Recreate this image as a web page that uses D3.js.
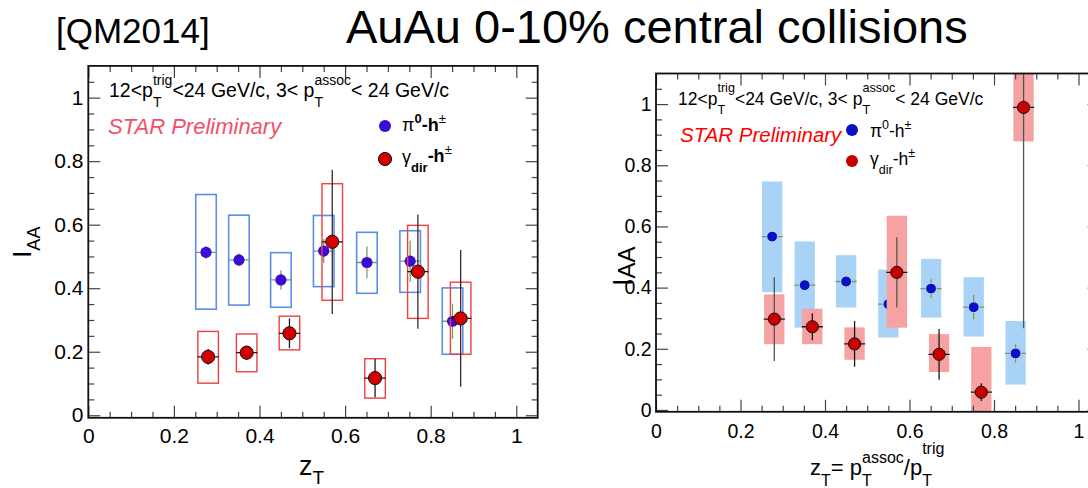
<!DOCTYPE html>
<html><head><meta charset="utf-8">
<script src="https://cdn.jsdelivr.net/npm/d3@7"></script>
<style>
body{margin:0;background:#fff}
svg{display:block}
text{font-family:"Liberation Sans",Arial,Helvetica,sans-serif}
</style>
</head><body>
<svg id="c" width="1088" height="488"></svg>
<script>
// ---------------- data ----------------
const zBlue = [0.275, 0.352, 0.45, 0.55, 0.651, 0.752, 0.851];
const zRed  = [0.28, 0.37, 0.47, 0.57, 0.67, 0.77, 0.87];

// left panel
const leftBlueIAA   = [0.513, 0.489, 0.426, 0.517, 0.481, 0.485, 0.296];
const leftBlueStat  = [0.02, 0.02, 0.03, 0.037, 0.05, 0.065, 0.055];
const leftBlueSysLo = [0.334, 0.347, 0.340, 0.405, 0.384, 0.387, 0.192];
const leftBlueSysHi = [0.695, 0.630, 0.512, 0.629, 0.576, 0.581, 0.401];
const leftRedIAA    = [0.184, 0.197, 0.258, 0.546, 0.117, 0.452, 0.305];
const leftRedStat   = [0.025, 0.022, 0.047, 0.227, 0.06, 0.18, 0.215];
const leftRedSysLo  = [0.101, 0.137, 0.206, 0.362, 0.054, 0.305, 0.192];
const leftRedSysHi  = [0.264, 0.256, 0.312, 0.729, 0.178, 0.598, 0.419];

// right panel
const rightBlueIAA   = [0.567, 0.408, 0.420, 0.346, 0.397, 0.336, 0.185];
const rightBlueStat  = [0.015, 0.015, 0.02, 0.02, 0.03, 0.04, 0.03];
const rightBlueSysLo = [0.385, 0.269, 0.335, 0.237, 0.302, 0.240, 0.083];
const rightBlueSysHi = [0.747, 0.551, 0.506, 0.459, 0.494, 0.434, 0.291];
const rightRedIAA    = [0.297, 0.272, 0.216, 0.450, 0.182, 0.058, 0.989];
const rightRedStat   = [0.137, 0.044, 0.075, 0.115, 0.083, 0.029, 0.722];
const rightRedSysLo  = [0.215, 0.215, 0.164, 0.269, 0.124, -0.10, 0.878];
const rightRedSysHi  = [0.378, 0.331, 0.270, 0.635, 0.248, 0.206, 1.20];

const xHalfWidth = 0.025;   // half bin width (horizontal bars)
const sysHalfWidth = 0.024; // half width of systematic boxes

const majorTicks = [0, 0.2, 0.4, 0.6, 0.8, 1];
const minorTicksX = d3.range(0, 21).map(i => i * 0.05).filter(v => Math.abs(v * 5 - Math.round(v * 5)) > 1e-6);
const minorTicksY = d3.range(0, 22).map(i => i * 0.05).filter(v => Math.abs(v * 5 - Math.round(v * 5)) > 1e-6);
const tickFmt = d3.format("~g");

const svg = d3.select("#c");
const FONT = '"Liberation Sans",Arial,Helvetica,sans-serif';

// rich text helper: sequential parts, "stack" parts do not advance
function rich(g, x, y, parts, base) {
  let cx = x, stackStart = null, stackW = 0;
  parts.forEach(p => {
    const t = g.append("text")
      .attr("x", stackStart !== null ? stackStart : cx)
      .attr("y", y + (p.dy || 0))
      .attr("font-size", p.size || base.size)
      .attr("font-weight", p.bold ? "bold" : (base.bold ? "bold" : "normal"))
      .attr("font-style", p.italic || base.italic ? "italic" : "normal")
      .attr("fill", p.fill || base.fill || "#000")
      .text(p.t);
    const w = t.node().getComputedTextLength();
    if (p.stack) { stackStart = cx; stackW = w; }
    else if (stackStart !== null) { cx = stackStart + Math.max(stackW, w); stackStart = null; }
    else cx += w;
  });
  return cx;
}

// ---------------- titles ----------------
svg.append("text").attr("x", 56).attr("y", 43).attr("font-size", 35).text("[QM2014]");
svg.append("text").attr("x", 346).attr("y", 43).attr("font-size", 47).text("AuAu 0-10% central collisions");

// ---------------- panels ----------------
function panel(cfg) {
  const x = d3.scaleLinear().domain([0, 1.05]).range([cfg.x0, cfg.x0 + cfg.xUnit * 1.05]);
  const y = d3.scaleLinear().domain([cfg.yMin, 1.1]).range([cfg.yBottom, cfg.yTop]);
  const [L, R] = x.range();
  const [B, T] = y.range();
  const g = svg.append("g");
  const clipId = "clip" + cfg.id;
  svg.append("clipPath").attr("id", clipId).append("rect")
    .attr("x", L).attr("y", T).attr("width", R - L).attr("height", B - T);
  const plot = g.append("g").attr("clip-path", `url(#${clipId})`);

  function series(zs, vals, stat, lo, hi, st) {
    // systematic boxes
    plot.append("g").selectAll("rect").data(zs).join("rect")
      .attr("x", d => x(d - sysHalfWidth))
      .attr("width", d => x(d + sysHalfWidth) - x(d - sysHalfWidth))
      .attr("y", (d, i) => y(hi[i]))
      .attr("height", (d, i) => y(lo[i]) - y(hi[i]))
      .attr("fill", st.boxFill)
      .attr("stroke", st.boxStroke)
      .attr("stroke-width", st.boxStrokeW);
    // stat error bars
    const eg = plot.append("g").attr("stroke", st.errColor).attr("stroke-width", 1.3);
    eg.selectAll("line.v").data(zs).join("line").attr("class", "v")
      .attr("x1", d => x(d)).attr("x2", d => x(d))
      .attr("y1", (d, i) => y(vals[i] - stat[i]))
      .attr("y2", (d, i) => y(vals[i] + stat[i]))
      .attr("stroke", (d, i) => (st.errColorBig && stat[i] > 0.1) ? st.errColorBig : null);
    eg.selectAll("line.h").data(zs).join("line").attr("class", "h")
      .attr("x1", d => x(d - xHalfWidth)).attr("x2", d => x(d + xHalfWidth))
      .attr("y1", (d, i) => y(vals[i])).attr("y2", (d, i) => y(vals[i]));
    // markers
    plot.append("g").selectAll("circle").data(zs).join("circle")
      .attr("cx", d => x(d)).attr("cy", (d, i) => y(vals[i]))
      .attr("r", st.r)
      .attr("fill", st.fill)
      .attr("stroke", st.stroke)
      .attr("stroke-width", st.strokeW);
  }
  series(zBlue, cfg.blue.vals, cfg.blue.stat, cfg.blue.lo, cfg.blue.hi, cfg.blueStyle);
  series(zRed, cfg.red.vals, cfg.red.stat, cfg.red.lo, cfg.red.hi, cfg.redStyle);

  // axes (ticks inside on all four sides)
  const tickCol = "#444";
  function styleAxis(sel) {
    sel.select(".domain").remove();
    sel.selectAll(".tick line").attr("stroke", tickCol).attr("stroke-width", 1.2);
  }
  const ax = g.append("g");
  ax.append("g").attr("transform", `translate(0,${B})`)
    .call(d3.axisBottom(x).tickValues(majorTicks).tickSizeInner(-12).tickSizeOuter(0)
      .tickPadding(cfg.xPad).tickFormat(tickFmt))
    .call(styleAxis)
    .call(s => s.selectAll("text").attr("font-size", cfg.tickFont).attr("font-family", FONT).attr("fill", "#000"));
  ax.append("g").attr("transform", `translate(0,${B})`)
    .call(d3.axisBottom(x).tickValues(minorTicksX).tickSizeInner(-6).tickSizeOuter(0).tickFormat(""))
    .call(styleAxis);
  ax.append("g").attr("transform", `translate(0,${T})`)
    .call(d3.axisTop(x).tickValues(majorTicks).tickSizeInner(-12).tickSizeOuter(0).tickFormat(""))
    .call(styleAxis);
  ax.append("g").attr("transform", `translate(0,${T})`)
    .call(d3.axisTop(x).tickValues(minorTicksX).tickSizeInner(-6).tickSizeOuter(0).tickFormat(""))
    .call(styleAxis);
  ax.append("g").attr("transform", `translate(${L},0)`)
    .call(d3.axisLeft(y).tickValues(majorTicks).tickSizeInner(-12).tickSizeOuter(0)
      .tickPadding(cfg.yPad).tickFormat(tickFmt))
    .call(styleAxis)
    .call(s => s.selectAll("text").attr("font-size", cfg.tickFont).attr("font-family", FONT).attr("fill", "#000"));
  ax.append("g").attr("transform", `translate(${L},0)`)
    .call(d3.axisLeft(y).tickValues(minorTicksY).tickSizeInner(-6).tickSizeOuter(0).tickFormat(""))
    .call(styleAxis);
  ax.append("g").attr("transform", `translate(${R},0)`)
    .call(d3.axisRight(y).tickValues(majorTicks).tickSizeInner(-12).tickSizeOuter(0).tickFormat(""))
    .call(styleAxis);
  ax.append("g").attr("transform", `translate(${R},0)`)
    .call(d3.axisRight(y).tickValues(minorTicksY).tickSizeInner(-6).tickSizeOuter(0).tickFormat(""))
    .call(styleAxis);

  // frame
  g.append("rect").attr("x", L).attr("y", T).attr("width", R - L).attr("height", B - T)
    .attr("fill", "none").attr("stroke", "#111").attr("stroke-width", 1.8);
  return { g, x, y };
}

const left = panel({
  id: "L", x0: 88.3, xUnit: 428, yMin: -0.008, yBottom: 417.8, yTop: 65.9,
  tickFont: 21, xPad: 10.3, yPad: 4.8,
  blue: { vals: leftBlueIAA, stat: leftBlueStat, lo: leftBlueSysLo, hi: leftBlueSysHi },
  red: { vals: leftRedIAA, stat: leftRedStat, lo: leftRedSysLo, hi: leftRedSysHi },
  blueStyle: { boxFill: "none", boxStroke: "#5b8ee6", boxStrokeW: 1.6, errColor: "#78a05a",
    r: 5.6, fill: "#3a0cd4", stroke: "none", strokeW: 0 },
  redStyle: { boxFill: "none", boxStroke: "#f04040", boxStrokeW: 1.4, errColor: "#1a1a1a", errColorBig: "#3a2828",
    r: 6.6, fill: "#d40000", stroke: "#111", strokeW: 1 }
});

const right = panel({
  id: "R", x0: 656, xUnit: 422.5, yMin: -0.006, yBottom: 411.8, yTop: 73.5,
  tickFont: 19.5, xPad: 12.5, yPad: 4.5,
  blue: { vals: rightBlueIAA, stat: rightBlueStat, lo: rightBlueSysLo, hi: rightBlueSysHi },
  red: { vals: rightRedIAA, stat: rightRedStat, lo: rightRedSysLo, hi: rightRedSysHi },
  blueStyle: { boxFill: "#a8d3f7", boxStroke: "none", boxStrokeW: 0, errColor: "#7a9a50",
    r: 5.4, fill: "#0a10c8", stroke: "#dfe8ff", strokeW: 0.8 },
  redStyle: { boxFill: "#f6a2a2", boxStroke: "none", boxStrokeW: 0, errColor: "#1a1a1a", errColorBig: "#555",
    r: 6.1, fill: "#c80000", stroke: "#111", strokeW: 1 }
});

// ---------------- in-panel texts ----------------
// left header
rich(svg, 109, 97, [
  { t: "12<p" },
  { t: "trig", size: 14, dy: -12.5, stack: true }, { t: "T", size: 14, dy: 10 },
  { t: "<24 GeV/c, 3< p" },
  { t: "assoc", size: 14, dy: -12.5, stack: true }, { t: "T", size: 14, dy: 10 },
  { t: "< 24 GeV/c" }
], { size: 19.5 });
svg.append("text").attr("x", 108).attr("y", 134).attr("font-size", 22)
  .attr("font-style", "italic").attr("fill", "#f2506a").text("STAR Preliminary");
// left legend
svg.append("circle").attr("cx", 385).attr("cy", 126).attr("r", 6).attr("fill", "#3a0cd4");
rich(svg, 402, 131, [
  { t: "π" }, { t: "0", size: 13, dy: -8, bold: true }, { t: "-h", bold: true }, { t: "±", size: 13, dy: -8 }
], { size: 18 });
svg.append("circle").attr("cx", 385).attr("cy", 159).attr("r", 6.6).attr("fill", "#d40000").attr("stroke", "#111");
rich(svg, 402, 163, [
  { t: "γ" }, { t: "dir", size: 13, dy: 9, bold: true }, { t: "-h", bold: true, dy: -1 }, { t: "±", size: 13, dy: -9 }
], { size: 18 });

// right header
rich(svg, 678, 105, [
  { t: "12<p" },
  { t: "trig", size: 12.6, dy: -13, stack: true }, { t: "T", size: 12.6, dy: 8.5 },
  { t: "<24 GeV/c, 3< p" },
  { t: "assoc", size: 12.6, dy: -13, stack: true }, { t: "T", size: 12.6, dy: 8.5 },
  { t: "< 24 GeV/c" }
], { size: 17.5 });
svg.append("text").attr("x", 680).attr("y", 142).attr("font-size", 20.5)
  .attr("font-style", "italic").attr("fill", "#ff0000").text("STAR Preliminary");
svg.append("circle").attr("cx", 852).attr("cy", 130).attr("r", 6).attr("fill", "#0a10c8");
rich(svg, 870, 137, [
  { t: "π" }, { t: "0", size: 12.5, dy: -8 }, { t: "-h" }, { t: "±", size: 12.5, dy: -8 }
], { size: 17.5 });
svg.append("circle").attr("cx", 852).attr("cy", 161).attr("r", 6).attr("fill", "#c80000");
rich(svg, 870, 165, [
  { t: "γ" }, { t: "dir", size: 12.5, dy: 9 }, { t: "-h" }, { t: "±", size: 12.5, dy: -8 }
], { size: 17.5 });

// ---------------- axis titles ----------------
rich(svg, 299, 475, [{ t: "z" }, { t: "T", size: 19, dy: 9 }], { size: 27 });
rich(svg, 810, 475, [
  { t: "z" }, { t: "T", size: 16, dy: 11 }, { t: "= p" },
  { t: "assoc", size: 16, dy: -12, stack: true }, { t: "T", size: 16, dy: 11 },
  { t: "/p" },
  { t: "trig", size: 16, dy: -21, stack: true }, { t: "T", size: 16, dy: 11 }
], { size: 22 });

const yl = svg.append("g").attr("transform", "translate(31,258) rotate(-90)");
rich(yl, 0, 0, [{ t: "I" }, { t: "AA", size: 18, dy: 9 }], { size: 26.5 });
const yr = svg.append("g").attr("transform", "translate(632,286) rotate(-90)");
rich(yr, 0, 0, [{ t: "I" }, { t: "AA", size: 24, dy: 3 }], { size: 27 });
</script>
</body></html>
